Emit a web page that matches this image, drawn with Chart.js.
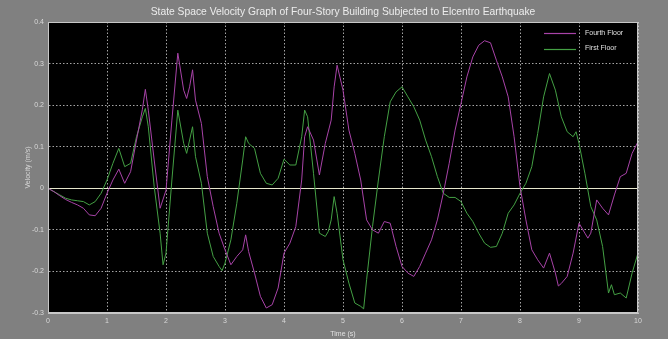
<!DOCTYPE html>
<html>
<head>
<meta charset="utf-8">
<script src="https://cdn.jsdelivr.net/npm/chart.js@4/dist/chart.umd.min.js"></script>
<style>
html,body{margin:0;padding:0;background:#808080;}
#wrap{width:668px;height:339px;}
</style>
</head>
<body>
<div id="wrap"><canvas id="c" width="668" height="339"></canvas></div>
<script>
const chartTitle = "State Space Velocity Graph of Four-Story Building Subjected to Elcentro Earthquake";
const seriesNames = ["Fourth Floor", "First Floor"];
const xTitle = "Time (s)";
const yTitle = "Velocity (m/s)";

const fourthTime = [0,0.1,0.2,0.3,0.4,0.5,0.6,0.7,0.8,0.9,1.0,1.1,1.2,1.3,1.4,1.5,1.6,1.65,1.7,1.8,1.9,2.0,
  2.1,2.2,2.3,2.35,2.4,2.45,2.5,2.6,2.7,2.8,2.9,3.0,3.1,3.2,3.3,3.35,3.4,3.5,3.6,3.7,3.8,3.9,4.0,
  4.1,4.2,4.3,4.35,4.4,4.5,4.6,4.7,4.8,4.85,4.9,5.0,5.1,5.2,5.3,5.4,5.5,5.6,5.7,5.8,5.9,6.0,
  6.1,6.2,6.3,6.4,6.5,6.6,6.7,6.8,6.9,7.0,7.1,7.2,7.3,7.4,7.5,7.6,7.7,7.8,7.9,8.0,
  8.1,8.2,8.3,8.4,8.5,8.6,8.65,8.7,8.8,8.9,9.0,9.1,9.15,9.2,9.3,9.4,9.5,9.6,9.7,9.8,9.9,10];
const fourthVel = [0,-0.008,-0.018,-0.027,-0.034,-0.04,-0.048,-0.064,-0.066,-0.048,-0.012,0.02,0.046,0.012,0.04,0.116,0.19,0.238,0.188,0.068,-0.048,-0.005,
  0.164,0.325,0.236,0.216,0.244,0.285,0.212,0.156,0.028,-0.044,-0.108,-0.148,-0.184,-0.164,-0.148,-0.112,-0.152,-0.204,-0.26,-0.288,-0.28,-0.24,-0.156,
  -0.132,-0.092,0.02,0.124,0.148,0.116,0.032,0.108,0.164,0.244,0.296,0.236,0.14,0.084,0.02,-0.076,-0.1,-0.108,-0.08,-0.084,-0.14,-0.188,
  -0.204,-0.212,-0.188,-0.156,-0.124,-0.076,-0.012,0.06,0.14,0.204,0.268,0.316,0.344,0.355,0.35,0.308,0.268,0.22,0.124,0.004,
  -0.076,-0.148,-0.172,-0.192,-0.156,-0.204,-0.235,-0.229,-0.212,-0.156,-0.084,-0.108,-0.12,-0.108,-0.028,-0.048,-0.064,-0.016,0.028,0.036,0.084,0.112];

const firstTime = [0,0.1,0.2,0.3,0.4,0.5,0.6,0.7,0.8,0.9,1.0,1.1,1.2,1.3,1.4,1.5,1.6,1.65,1.7,1.8,1.9,1.95,2.0,
  2.1,2.2,2.3,2.35,2.45,2.5,2.6,2.7,2.8,2.9,2.95,3.0,3.1,3.2,3.3,3.35,3.4,3.5,3.6,3.7,3.8,3.9,4.0,
  4.1,4.2,4.3,4.35,4.4,4.5,4.6,4.7,4.75,4.8,4.85,4.9,5.0,5.1,5.2,5.3,5.35,5.4,5.5,5.6,5.7,5.8,5.9,6.0,
  6.1,6.2,6.3,6.4,6.5,6.6,6.7,6.8,6.9,7.0,7.1,7.2,7.3,7.4,7.5,7.6,7.7,7.8,7.9,8.0,
  8.1,8.2,8.3,8.4,8.5,8.6,8.7,8.8,8.9,8.95,9.0,9.1,9.2,9.3,9.4,9.5,9.55,9.6,9.7,9.8,9.9,10];
const firstVel = [0,-0.008,-0.016,-0.024,-0.028,-0.03,-0.032,-0.04,-0.032,-0.012,0.02,0.06,0.096,0.052,0.06,0.124,0.172,0.192,0.148,0.004,-0.108,-0.184,-0.156,
  0.02,0.188,0.108,0.084,0.148,0.076,0.012,-0.108,-0.164,-0.188,-0.198,-0.18,-0.124,-0.036,0.068,0.124,0.108,0.096,0.036,0.012,0.008,0.024,0.07,
  0.056,0.056,0.124,0.188,0.172,0.036,-0.108,-0.116,-0.104,-0.076,-0.02,-0.06,-0.172,-0.228,-0.276,-0.284,-0.29,-0.22,-0.092,0.02,0.124,0.208,0.232,0.244,
  0.22,0.196,0.164,0.116,0.076,0.028,-0.012,-0.022,-0.022,-0.032,-0.06,-0.08,-0.108,-0.132,-0.142,-0.14,-0.108,-0.06,-0.04,-0.012,
  0.012,0.052,0.132,0.22,0.276,0.236,0.172,0.136,0.124,0.136,0.108,0.036,-0.044,-0.076,-0.14,-0.252,-0.232,-0.256,-0.252,-0.264,-0.204,-0.156];

const xTicks = [0,1,2,3,4,5,6,7,8,9,10];
const yTicks = [-0.3,-0.2,-0.1,0,0.1,0.2,0.3,0.4];

const colors = ["#a843a8", "#44a044"];

function toPoints(ts, vs){ return ts.map((t,i)=>({x:t, y:vs[i]})); }

const bgPlugin = {
  id: 'bg',
  beforeDraw(chart){
    const {ctx, chartArea:a} = chart;
    ctx.save();
    ctx.fillStyle = '#808080';
    ctx.fillRect(0,0,chart.width,chart.height);
    ctx.fillStyle = '#000000';
    ctx.fillRect(a.left,a.top,a.right-a.left,a.bottom-a.top);
    ctx.restore();
  },
  beforeDatasetsDraw(chart){
    const {ctx, chartArea:a, scales} = chart;
    const y0 = Math.round(scales.y.getPixelForValue(0)) + 0.5;
    ctx.save();
    ctx.strokeStyle = '#e6e6cc';
    ctx.lineWidth = 1;
    ctx.beginPath();
    ctx.moveTo(a.left, y0); ctx.lineTo(a.right, y0);
    ctx.stroke();
    ctx.restore();
  },
  afterDraw(chart){
    const {ctx, chartArea:a} = chart;
    ctx.save();
    ctx.setLineDash([]);
    ctx.strokeStyle = '#c8c8c8';
    ctx.lineWidth = 1;
    ctx.strokeRect(Math.round(a.left)+0.5, Math.round(a.top)+0.5, Math.round(a.right-a.left)-1, Math.round(a.bottom-a.top)-1);
    // title centred over the plot area
    ctx.fillStyle = '#ececec';
    ctx.font = '10.3px "Liberation Sans", Arial, sans-serif';
    ctx.textAlign = 'center';
    ctx.textBaseline = 'middle';
    ctx.fillText(chartTitle, (a.left + a.right) / 2, 12);
    // legend
    const lx0 = a.right - 94, lx1 = a.right - 62, tx = a.right - 53;
    ctx.font = '7px "Liberation Sans", Arial, sans-serif';
    ctx.textAlign = 'left';
    seriesNames.forEach((name, i) => {
      const yy = a.top + 11 + i*15.5;
      ctx.strokeStyle = colors[i];
      ctx.lineWidth = 1.2;
      ctx.beginPath(); ctx.moveTo(lx0, Math.round(yy)+0.5); ctx.lineTo(lx1, Math.round(yy)+0.5); ctx.stroke();
      ctx.fillStyle = '#e0e0e0';
      ctx.fillText(name, tx, yy);
    });
    ctx.restore();
  }
};

const tickFont = {family: '"Liberation Sans", Arial, sans-serif', size: 7};

new Chart(document.getElementById('c'), {
  type: 'line',
  data: {
    datasets: [
      {label: seriesNames[0], data: toPoints(fourthTime, fourthVel), borderColor: colors[0], borderWidth: 1, pointRadius: 0, tension: 0, fill: false},
      {label: seriesNames[1], data: toPoints(firstTime, firstVel), borderColor: colors[1], borderWidth: 1, pointRadius: 0, tension: 0, fill: false}
    ]
  },
  options: {
    responsive: false,
    animation: false,
    devicePixelRatio: 1,
    layout: {padding: {left: 0, right: 30, top: 22, bottom: 0}},
    plugins: {
      legend: {display: false},
      tooltip: {enabled: false},
      title: {display: false}
    },
    scales: {
      x: {
        type: 'linear', min: 0, max: 10,
        afterBuildTicks(s){ s.ticks = xTicks.map(v=>({value:v})); },
        afterFit(s){ s.height = 26; },
        ticks: {color: '#d8d8d8', font: tickFont, padding: 4, maxRotation: 0, callback: v => String(v)},
        grid: {color: 'rgba(220,220,220,0.75)', lineWidth: 1, drawTicks: false},
        border: {display: true, color: '#c8c8c8', dash: [1.5, 2]},
        title: {display: true, text: xTitle, color: '#e0e0e0', font: tickFont, padding: {top: 0, bottom: 1}}
      },
      y: {
        type: 'linear', min: -0.3, max: 0.4,
        afterBuildTicks(s){ s.ticks = yTicks.map(v=>({value:v})); },
        afterFit(s){ s.width = 48; },
        ticks: {color: '#d8d8d8', font: tickFont, padding: 4, callback: v => String(Math.round(v*10)/10)},
        grid: {color: 'rgba(220,220,220,0.75)', lineWidth: 1, drawTicks: false},
        border: {display: true, color: '#c8c8c8', dash: [1.5, 2]},
        title: {display: true, text: yTitle, color: '#d8d8d8', font: tickFont, padding: {top: 24, bottom: 0}}
      }
    }
  },
  plugins: [bgPlugin]
});
</script>
</body>
</html>
